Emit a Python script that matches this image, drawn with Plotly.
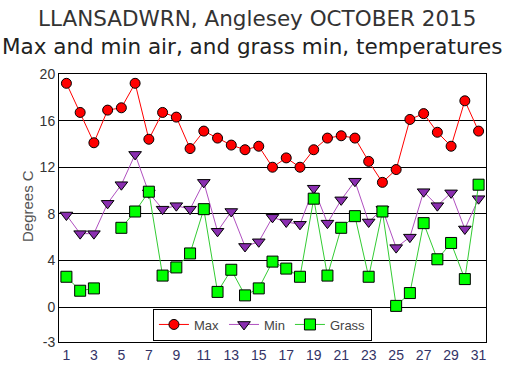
import plotly.graph_objects as go

days = list(range(1, 32))
max_t = [19.2, 16.7, 14.1, 16.9, 17.1, 19.2, 14.4, 16.7, 16.3, 13.6, 15.1, 14.5, 13.9, 13.5, 13.8,
         12.0, 12.8, 12.0, 13.5, 14.5, 14.7, 14.5, 12.5, 10.7, 11.8, 16.1, 16.6, 15.0, 13.8, 17.7, 15.1]
min_t = [7.9, 6.3, 6.3, 8.9, 10.5, 13.1, 9.8, 8.4, 8.7, 8.4, 10.7, 6.5, 8.2, 5.2, 5.6,
         7.7, 7.3, 7.1, 10.2, 7.2, 9.2, 10.8, 7.3, 8.4, 5.1, 6.0, 9.9, 8.7, 9.8, 6.7, 9.3]
grass_t = [2.6, 1.4, 1.6, None, 6.8, 8.2, 9.9, 2.7, 3.4, 4.6, 8.4, 1.3, 3.2, 1.0, 1.6,
           3.9, 3.3, 2.6, 9.3, 2.7, 6.8, 7.8, 2.6, 8.2, 0.1, 1.2, 7.2, 4.1, 5.5, 2.4, 10.5]
y_ticks = [-3, 0, 4, 8, 12, 16, 20]
x_ticks = list(range(1, 32, 2))

fig = go.Figure()
fig.add_trace(go.Scatter(x=days, y=max_t, name="Max", mode="lines+markers",
                         line=dict(color="#ff0000", width=1),
                         marker=dict(symbol="circle", size=10, color="#ff0000",
                                     line=dict(color="#000000", width=1))))
fig.add_trace(go.Scatter(x=days, y=min_t, name="Min", mode="lines+markers",
                         line=dict(color="#b050c0", width=1),
                         marker=dict(symbol="triangle-down", size=11, color="#8a2eb0",
                                     line=dict(color="#000000", width=1))))
fig.add_trace(go.Scatter(x=days, y=grass_t, name="Grass", mode="lines+markers",
                         connectgaps=False,
                         line=dict(color="#33cc33", width=1),
                         marker=dict(symbol="square", size=11, color="#00ff00",
                                     line=dict(color="#000000", width=1))))

fig.update_layout(
    width=506, height=376,
    margin=dict(l=59, r=20, t=74, b=34, pad=0),
    paper_bgcolor="white", plot_bgcolor="white",
    showlegend=True,
    legend=dict(orientation="h", x=0.22, y=0.125, xanchor="left", yanchor="top",
                bgcolor="white", bordercolor="#000000", borderwidth=1,
                font=dict(family="Liberation Sans, Arial", size=13, color="#444444"),
                itemwidth=30, tracegroupgap=0),
    font=dict(family="Liberation Sans, Arial", size=14, color="#333333"),
)
fig.update_xaxes(range=[0.46, 31.54], tickvals=x_ticks, ticktext=[str(v) for v in x_ticks],
                 showgrid=False, zeroline=False, showline=True, linecolor="#000000", linewidth=1,
                 mirror=True, ticks="", tickfont=dict(size=14, color="#333366"))
fig.update_yaxes(range=[-3, 20], tickvals=y_ticks, ticktext=[str(v) for v in y_ticks],
                 showgrid=True, gridcolor="#000000", gridwidth=1, zeroline=False,
                 showline=True, linecolor="#000000", linewidth=1, mirror=True, ticks="",
                 tickfont=dict(size=14, color="#333333"))

fig.add_annotation(text="LLANSADWRN, Anglesey OCTOBER 2015", xref="paper", yref="paper",
                   x=0.5, y=1, xanchor="center", yanchor="middle", yshift=56, xshift=-16,
                   showarrow=False,
                   font=dict(family="DejaVu Sans, Verdana", size=21.5, color="#333333"))
fig.add_annotation(text="Max and min air, and grass min, temperatures", xref="paper", yref="paper",
                   x=0.5, y=1, xanchor="center", yanchor="middle", yshift=28, xshift=-21,
                   showarrow=False,
                   font=dict(family="DejaVu Sans, Verdana", size=21.5, color="#222222"))
fig.add_annotation(text="Degrees C", xref="paper", yref="paper", x=0, y=0.5, xshift=-32, yshift=2,
                   xanchor="center", yanchor="middle", textangle=-90, showarrow=False,
                   font=dict(family="Liberation Sans, Arial", size=15, color="#555555"))

fig.write_html("out.html")
